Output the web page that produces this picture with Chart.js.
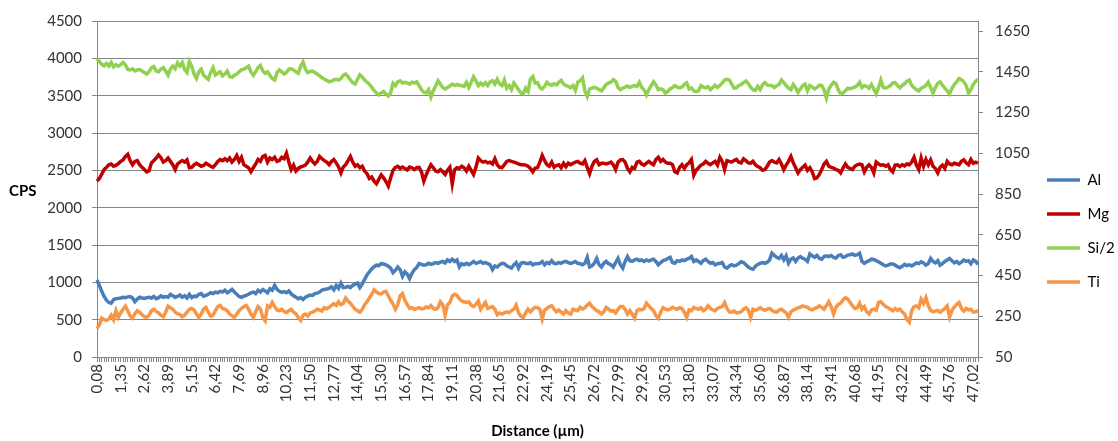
<!DOCTYPE html>
<html><head><meta charset="utf-8">
<script src="https://cdn.jsdelivr.net/npm/chart.js@4.4.1/dist/chart.umd.min.js"></script>
<style>html,body{margin:0;padding:0;background:#fff;overflow:hidden}canvas{display:block}</style>
</head><body>
<canvas id="c" width="1118" height="441"></canvas>
<script>
const seriesNames = ['Al', 'Mg', 'Si/2', 'Ti'];
const seriesColors = ['#4A7EBB', '#C00000', '#92D050', '#F79646'];
const tickLabels = ['0,08','1,35','2,62','3,89','5,15','6,42','7,69','8,96','10,23','11,50','12,77','14,04','15,30','16,57','17,84','19,11','20,38','21,65','22,92','24,19','25,45','26,72','27,99','29,26','30,53','31,80','33,07','34,34','35,60','36,87','38,14','39,41','40,68','41,95','43,22','44,49','45,76','47,02'];
const rightAxisTicks = [50,250,450,650,850,1050,1250,1450,1650];

const al = [1030,960,880,810,760,730,720,770,780,785,
790,800,795,805,810,790,740,775,800,790,
785,795,800,790,810,780,795,820,800,810,
800,840,820,800,810,830,800,820,790,840,
795,815,810,840,850,815,825,840,860,850,
870,860,880,870,895,860,880,905,870,840,
810,800,815,825,840,860,870,850,895,870,
905,885,860,915,895,960,905,880,865,875,
860,885,845,820,800,780,795,770,800,815,
830,825,850,855,870,895,905,910,920,940,
900,960,920,990,930,935,945,930,960,975,
990,930,980,1040,1100,1140,1180,1210,1230,1225,
1250,1245,1235,1215,1190,1130,1160,1205,1170,1080,
1140,1110,1050,1120,1170,1200,1250,1240,1230,1235,
1255,1240,1250,1265,1255,1270,1280,1260,1300,1280,
1310,1280,1300,1205,1250,1235,1255,1235,1255,1280,
1255,1265,1280,1255,1265,1250,1235,1170,1220,1205,
1235,1255,1250,1220,1205,1190,1235,1265,1190,1255,
1265,1255,1250,1265,1235,1250,1250,1255,1280,1235,
1265,1250,1290,1255,1250,1265,1255,1275,1280,1265,
1255,1265,1280,1255,1250,1235,1255,1335,1205,1220,
1255,1320,1235,1205,1255,1280,1250,1235,1205,1265,
1320,1235,1190,1280,1345,1290,1280,1300,1310,1290,
1300,1280,1300,1285,1300,1310,1280,1235,1265,1290,
1300,1320,1335,1265,1255,1290,1280,1300,1290,1310,
1320,1345,1280,1300,1280,1255,1290,1310,1280,1255,
1265,1235,1250,1255,1265,1205,1190,1220,1235,1220,
1230,1250,1275,1265,1235,1205,1185,1175,1215,1240,
1255,1265,1255,1270,1300,1390,1360,1335,1320,1360,
1300,1355,1255,1310,1325,1280,1325,1345,1320,1310,
1280,1380,1355,1335,1360,1320,1310,1345,1355,1345,
1360,1335,1325,1360,1370,1335,1345,1365,1370,1380,
1360,1370,1390,1280,1255,1275,1290,1310,1305,1290,
1275,1255,1235,1220,1230,1245,1245,1230,1210,1195,
1215,1240,1225,1235,1220,1240,1260,1250,1275,1260,
1230,1250,1320,1280,1260,1290,1230,1250,1280,1300,
1320,1290,1260,1280,1250,1270,1300,1280,1290,1250,
1300,1280,1240];

const mg = [2355,2390,2450,2510,2540,2575,2585,2555,2565,2590,
2620,2640,2685,2715,2630,2575,2620,2630,2575,2540,
2510,2480,2495,2600,2630,2665,2705,2670,2610,2630,
2665,2620,2575,2510,2585,2610,2630,2610,2640,2535,
2540,2575,2595,2575,2555,2565,2595,2575,2555,2540,
2575,2620,2645,2630,2655,2630,2665,2610,2645,2700,
2620,2675,2575,2555,2535,2480,2535,2585,2645,2620,
2685,2700,2610,2665,2645,2675,2620,2630,2675,2655,
2730,2610,2510,2570,2490,2525,2545,2555,2570,2610,
2665,2620,2585,2620,2685,2655,2630,2610,2575,2620,
2645,2600,2545,2465,2545,2575,2630,2685,2610,2555,
2575,2535,2555,2490,2455,2390,2410,2355,2320,2380,
2440,2400,2350,2290,2400,2500,2540,2555,2525,2545,
2525,2505,2545,2535,2510,2535,2540,2480,2355,2440,
2510,2575,2535,2490,2480,2510,2480,2445,2500,2540,
2320,2510,2535,2525,2555,2535,2490,2555,2500,2445,
2540,2665,2630,2610,2620,2600,2610,2585,2655,2575,
2540,2535,2575,2620,2630,2620,2610,2600,2585,2575,
2575,2570,2555,2525,2480,2530,2535,2610,2700,2630,
2575,2555,2610,2540,2565,2575,2535,2595,2550,2595,
2575,2595,2610,2620,2595,2585,2630,2540,2455,2555,
2620,2640,2575,2595,2595,2585,2595,2610,2575,2510,
2610,2640,2645,2610,2525,2480,2540,2525,2610,2620,
2585,2570,2595,2620,2595,2575,2645,2675,2620,2645,
2610,2595,2595,2575,2480,2465,2540,2575,2525,2575,
2600,2645,2435,2500,2535,2570,2585,2620,2595,2575,
2600,2620,2570,2675,2620,2510,2630,2620,2610,2630,
2645,2610,2600,2655,2630,2600,2595,2620,2575,2550,
2535,2500,2510,2555,2610,2630,2610,2600,2645,2585,
2510,2570,2620,2685,2600,2535,2465,2510,2540,2570,
2500,2535,2480,2390,2400,2445,2510,2585,2620,2555,
2540,2530,2510,2500,2465,2530,2585,2540,2525,2510,
2555,2575,2585,2575,2480,2540,2575,2540,2465,2610,
2585,2570,2575,2555,2575,2510,2480,2570,2575,2550,
2575,2560,2585,2575,2610,2675,2570,2510,2665,2555,
2645,2575,2640,2555,2525,2465,2540,2570,2525,2620,
2585,2575,2595,2585,2575,2620,2640,2600,2575,2645,
2595,2610,2595];

const siHalf = [3990,3960,3920,3900,3930,3895,3945,3885,3915,3895,
3915,3945,3915,3850,3845,3860,3830,3845,3850,3830,
3810,3790,3820,3875,3890,3830,3820,3855,3875,3830,
3775,3855,3895,3860,3940,3895,3945,3850,3810,3960,
3895,3790,3730,3820,3855,3775,3745,3720,3810,3875,
3775,3800,3820,3765,3790,3830,3755,3745,3775,3790,
3820,3845,3855,3875,3895,3820,3775,3820,3875,3905,
3830,3800,3820,3775,3730,3710,3810,3845,3820,3790,
3810,3855,3860,3845,3820,3800,3895,3950,3855,3810,
3825,3830,3810,3790,3765,3740,3720,3705,3685,3695,
3710,3720,3710,3730,3775,3790,3755,3710,3675,3655,
3720,3780,3750,3710,3680,3655,3610,3570,3535,3510,
3535,3555,3520,3495,3540,3665,3635,3685,3700,3670,
3680,3670,3655,3680,3670,3685,3635,3580,3545,3535,
3580,3480,3565,3630,3700,3655,3610,3590,3610,3630,
3655,3635,3650,3640,3635,3625,3680,3610,3680,3755,
3700,3635,3670,3640,3675,3635,3685,3700,3655,3720,
3655,3635,3710,3600,3635,3580,3670,3625,3580,3535,
3525,3600,3555,3720,3755,3670,3675,3610,3590,3625,
3680,3650,3640,3660,3645,3680,3705,3655,3635,3625,
3605,3635,3570,3680,3700,3740,3565,3490,3590,3600,
3610,3600,3580,3565,3605,3650,3670,3680,3715,3695,
3610,3580,3600,3615,3630,3610,3625,3635,3625,3680,
3610,3580,3510,3580,3635,3685,3645,3580,3590,3580,
3535,3555,3590,3610,3635,3615,3605,3615,3650,3670,
3590,3605,3565,3555,3565,3635,3615,3605,3620,3580,
3610,3640,3610,3635,3670,3710,3720,3710,3655,3600,
3605,3635,3650,3675,3695,3660,3615,3580,3570,3625,
3580,3645,3675,3645,3635,3635,3610,3635,3650,3710,
3675,3635,3600,3580,3650,3605,3545,3590,3635,3655,
3565,3635,3615,3590,3610,3640,3635,3580,3470,3590,
3640,3680,3660,3580,3525,3535,3565,3600,3590,3605,
3615,3635,3680,3610,3635,3625,3600,3650,3590,3525,
3610,3710,3610,3600,3615,3635,3670,3675,3635,3605,
3635,3660,3695,3710,3640,3605,3580,3565,3600,3615,
3635,3680,3610,3535,3610,3665,3685,3640,3600,3565,
3525,3600,3650,3685,3730,3715,3685,3635,3535,3580,
3650,3690,3720];

const ti = [380,430,520,500,490,510,560,500,620,530,
590,640,680,620,550,520,580,620,600,570,
540,530,560,620,640,610,590,560,540,600,
680,660,640,600,580,570,540,560,600,640,
650,630,575,530,575,640,665,600,545,560,
620,675,690,650,640,620,575,555,530,575,
620,650,675,690,640,575,530,605,675,640,
530,485,685,665,730,675,630,620,640,610,
595,620,640,600,580,530,490,560,575,550,
590,600,615,640,630,615,660,645,665,690,
715,690,740,700,720,790,750,720,680,640,
620,600,640,700,740,790,840,900,870,850,
845,870,880,820,760,710,640,700,820,850,
760,700,650,660,640,650,660,645,650,670,
660,690,650,640,660,740,700,560,700,730,
815,840,825,780,750,740,730,740,695,675,
705,750,640,685,730,650,665,675,640,565,
590,575,590,605,595,620,640,695,590,545,
530,590,640,605,640,665,660,640,510,630,
650,675,685,640,605,630,600,575,620,590,
575,640,630,620,665,640,660,695,720,675,
650,620,605,575,605,665,640,615,620,590,
640,675,675,640,575,620,575,520,620,640,
630,650,720,685,650,620,555,520,600,660,
640,630,640,665,650,640,660,650,600,530,
630,620,665,650,640,660,620,640,685,650,
630,620,650,665,675,730,650,605,600,615,
590,595,605,640,660,630,530,640,625,640,
660,640,625,640,650,625,605,600,630,640,
615,590,530,605,630,640,660,665,685,675,
665,640,630,650,660,685,665,640,685,740,
675,575,665,705,720,765,795,775,730,685,
650,660,720,640,675,605,575,630,640,625,
730,740,705,675,660,640,620,650,625,640,
605,575,500,465,620,675,685,660,775,720,
795,685,625,605,615,625,600,625,650,685,
535,625,670,705,730,650,615,650,630,640,
600,605,620];

const seriesValues = [al, mg, siHalf, ti];
const pointIndex = al.map((_, i) => i);

const FONT = 'Lato';
const GRID = '#868686';
const TXT = '#333333';
const PLOT_RIGHT_GAP = 140;   // canvas width minus plot right edge
const LEGEND_BOX = 78;

const cpsTitle = {
  id: 'cpsTitle',
  afterDraw(chart) {
    const {ctx, chartArea} = chart;
    ctx.save();
    ctx.font = 'bold 15px ' + FONT;
    ctx.fillStyle = '#000';
    ctx.textAlign = 'left';
    ctx.textBaseline = 'middle';
    ctx.fillText('CPS', 9, (chartArea.top + chartArea.bottom) / 2 + 2);
    ctx.restore();
  }
};

const legendPlace = {
  id: 'legendPlace',
  afterLayout(chart) {
    const lg = chart.legend;
    if (!lg || !lg.columnSizes || !lg.columnSizes.length) return;
    const pad = lg.options.labels.padding;
    const fs = lg.options.labels.font.size;
    const ca = chart.chartArea;
    const dx = (ca.right + 69) - (lg.left + pad);
    const curY = (lg.top + pad + lg.bottom - lg.columnSizes[0].height) / 2 + fs / 2;
    const dy = (ca.top + 159) - curY;
    lg.left += dx; lg.top += dy; lg.bottom += dy;
    lg.right = chart.width;
    lg.width = lg.right - lg.left;
  }
};

new Chart(document.getElementById('c'), {
  type: 'line',
  data: {
    labels: pointIndex,
    datasets: seriesNames.map((name, k) => ({
      label: name,
      data: seriesValues[k],
      borderColor: seriesColors[k],
      backgroundColor: seriesColors[k],
      borderWidth: 3.5,
      pointRadius: 0,
      tension: 0,
      fill: false,
      order: 3 - k,
      yAxisID: 'y'
    }))
  },
  options: {
    responsive: false,
    animation: false,
    events: [],
    layout: { padding: { left: 0, right: 0, top: 16, bottom: 0 } },
    plugins: {
      tooltip: { enabled: false },
      legend: {
        position: 'right',
        maxWidth: LEGEND_BOX,
        labels: {
          usePointStyle: true,
          pointStyle: 'line',
          pointStyleWidth: 33,
          padding: 19,
          color: '#000',
          font: { family: FONT, size: 15 },
          sort: (a, b) => a.datasetIndex - b.datasetIndex
        }
      }
    },
    scales: {
      x: {
        type: 'category',
        offset: false,
        grid: { drawOnChartArea: false, drawTicks: true, tickLength: 5, color: GRID },
        border: { color: GRID, width: 1 },
        ticks: {
          autoSkip: false, minRotation: 90, maxRotation: 90, padding: 2,
          color: TXT, font: { family: FONT, size: 15 },
          callback: (v, i) => (i % 10 === 0 && tickLabels[i / 10] !== undefined) ? tickLabels[i / 10] : ''
        },
        title: { display: true, text: 'Distance (µm)', color: '#000', font: { family: FONT, size: 15, weight: 'bold' }, padding: { top: 2, bottom: 1 } },
        afterFit(s) { s.height = 84; }
      },
      y: {
        position: 'left', min: 0, max: 4500,
        grid: { color: GRID, tickLength: 5, drawTicks: true },
        border: { color: GRID, width: 1 },
        ticks: { stepSize: 500, padding: 10, color: TXT, font: { family: FONT, size: 15 }, callback: v => String(v) },
        afterFit(s) { s.width = 97; }
      },
      y2: {
        position: 'right', min: 50, max: 1700,
        grid: { drawOnChartArea: false, tickLength: 5, color: GRID },
        border: { color: GRID, width: 1 },
        ticks: { padding: 12, color: TXT, font: { family: FONT, size: 15 }, callback: v => String(v) },
        afterBuildTicks(s) { s.ticks = rightAxisTicks.map(v => ({ value: v })); },
        afterFit(s) { s.width = PLOT_RIGHT_GAP - LEGEND_BOX; }
      }
    }
  },
  plugins: [cpsTitle, legendPlace]
});
</script>
</body></html>
